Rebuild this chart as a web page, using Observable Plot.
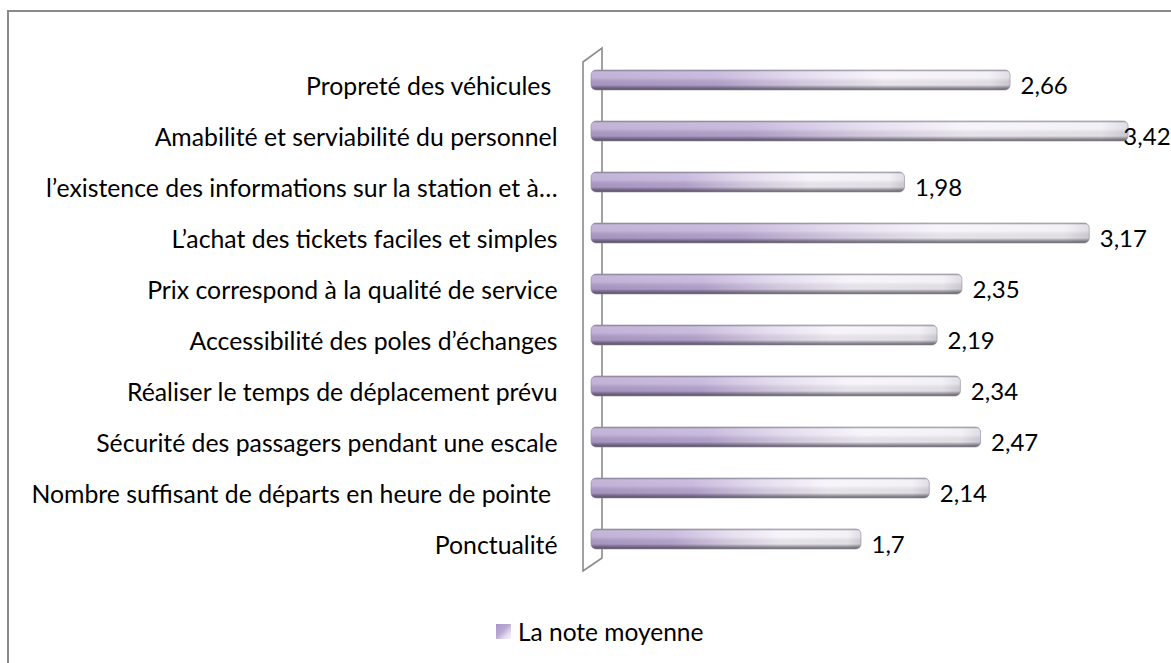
<!DOCTYPE html>
<html>
<head>
<meta charset="utf-8">
<script src="https://cdn.jsdelivr.net/npm/d3@7"></script>
<script src="https://cdn.jsdelivr.net/npm/@observablehq/plot@0.6"></script>
<style>
  html, body { margin: 0; padding: 0; background: #fff; overflow: hidden; }
  #wrap { position: relative; width: 1171px; height: 663px; }
  #frame { position: absolute; left: 7px; top: 10px; width: 1300px; height: 800px;
           border-top: 2px solid #8a8a8a; border-left: 2px solid #8a8a8a; pointer-events: none; }
  #chart svg { display: block; }
  svg text { white-space: pre; }
  #legend { position: absolute; left: 496px; top: 617px; height: 28px; display: flex; align-items: center;
            font-family: Lato, sans-serif; font-size: 24.5px; color: #000; }
  #legend .sw { width: 15px; height: 15px; margin-right: 7px;
                background: linear-gradient(135deg, #a995c6 0%, #b9a9d3 45%, #e4def0 75%, #f4f2f8 100%); }
</style>
</head>
<body>
<div id="wrap">
  <div id="chart"></div>
  <div id="legend"><div class="sw"></div><span>La note moyenne</span></div>
  <div id="frame"></div>
</div>
<script>
const categories = [
  "Propreté des véhicules ",
  "Amabilité et serviabilité du personnel",
  "l’existence des informations sur la station et à…",
  "L’achat des tickets faciles et simples",
  "Prix correspond à la qualité de service",
  "Accessibilité des poles d’échanges",
  "Réaliser le temps de déplacement prévu",
  "Sécurité des passagers pendant une escale",
  "Nombre suffisant de départs en heure de pointe ",
  "Ponctualité"
];
const values = [2.66, 3.42, 1.98, 3.17, 2.35, 2.19, 2.34, 2.47, 2.14, 1.7];
const seriesName = "La note moyenne";

const data = categories.map((c, i) => ({category: c, value: values[i]}));
const fmt = v => String(v).replace(".", ",");

const chart = Plot.plot({
  width: 1171,
  height: 615,
  marginLeft: 597,
  marginRight: 30.5,
  marginTop: 39,
  marginBottom: 35,
  style: {fontFamily: "Lato, sans-serif", fontSize: "24.8px", color: "#000", background: "transparent"},
  x: {domain: [0, 3.5], axis: null},
  y: {domain: categories, padding: 0.608, round: false, label: null, tickSize: 0, tickPadding: 40},
  marks: [
    Plot.axisY({tickSize: 0, tickPadding: 40, dy: 7, fontSize: 24.8, fill: "#000", label: null}),
    Plot.barX(data, {x: "value", y: "category", fill: "url(#hgrad)", rx: 5, insetLeft: -6}),
    Plot.barX(data, {x: "value", y: "category", fill: "url(#vgrad)", rx: 5, insetLeft: -6,
                     stroke: "#8f8a98", strokeWidth: 0.6}),
    Plot.text(data.filter(d => d.value < 3.4), {x: "value", y: "category", text: d => fmt(d.value),
                     textAnchor: "start", dx: 10, dy: 6, fontSize: 24, fill: "#000"}),
    Plot.text(data.filter(d => d.value >= 3.4), {x: "value", y: "category", text: d => fmt(d.value),
                     textAnchor: "end", dx: 42, dy: 6, fontSize: 24, fill: "#000"})
  ]
});

// gradients
const ns = "http://www.w3.org/2000/svg";
const defs = document.createElementNS(ns, "defs");
defs.innerHTML = `
  <linearGradient id="hgrad" x1="0" y1="0" x2="1" y2="0">
    <stop offset="0" stop-color="#b09dcb"/>
    <stop offset="0.3" stop-color="#baa8d4"/>
    <stop offset="0.5" stop-color="#ddd3ea"/>
    <stop offset="0.7" stop-color="#f5f2f9"/>
    <stop offset="0.95" stop-color="#efedf3"/>
    <stop offset="1" stop-color="#d6d3dc"/>
  </linearGradient>
  <linearGradient id="vgrad" x1="0" y1="0" x2="0" y2="1">
    <stop offset="0" stop-color="#5a5566" stop-opacity="0.55"/>
    <stop offset="0.12" stop-color="#ffffff" stop-opacity="0.25"/>
    <stop offset="0.4" stop-color="#ffffff" stop-opacity="0.2"/>
    <stop offset="0.75" stop-color="#000000" stop-opacity="0.05"/>
    <stop offset="1" stop-color="#3c3746" stop-opacity="0.75"/>
  </linearGradient>`;
chart.insertBefore(defs, chart.firstChild);

// 3D wall drawn from the scales
const xs = chart.scale("x"), ys = chart.scale("y");
const x0 = xs.apply(0);
const [r0, r1] = ys.range;
const front = x0 - 14, back = x0 + 5;
const wall = document.createElementNS(ns, "path");
wall.setAttribute("d", `M${front},${r0 + 23}L${back},${r0 + 9}L${back},${r1 - 22}L${front},${r1 - 9}Z`);
wall.setAttribute("fill", "none");
wall.setAttribute("stroke", "#8a8a8a");
wall.setAttribute("stroke-width", "1.6");
const firstBar = chart.querySelector('g[aria-label="bar"]');
chart.insertBefore(wall, firstBar);

document.getElementById("chart").append(chart);
</script>
</body>
</html>
